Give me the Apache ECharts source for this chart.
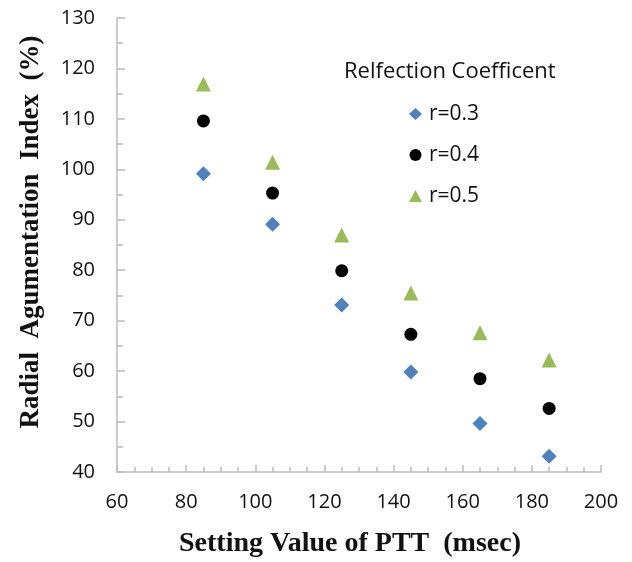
<!DOCTYPE html>
<html>
<head>
<meta charset="utf-8">
<script src="https://cdn.jsdelivr.net/npm/echarts@6/dist/echarts.min.js"></script>
<style>
  html, body { margin: 0; padding: 0; background: #fff; }
  #chart { width: 632px; height: 562px; }
</style>
</head>
<body>
<div id="chart"></div>
<script>
// PTT settings (msec) and radial augmentation index (%) per reflection coefficient
const pttSettings = [85, 105, 125, 145, 165, 185];
const aiR03 = [99.1, 89.1, 73.1, 59.8, 49.6, 43.1];
const aiR04 = [109.6, 95.3, 79.9, 67.3, 58.5, 52.6];
const aiR05 = [116.9, 101.4, 87.0, 75.5, 67.6, 62.2];
const seriesNames = ['r=0.3', 'r=0.4', 'r=0.5'];
const xTitle = 'Setting Value of PTT  (msec)';
const yTitle = 'Radial  Agumentation  Index  (%)';

const axisGray = '#bcbcbc';
const tickFont = 'Open Sans';
const titleFont = 'Liberation Serif';
const textColor = '#111111';

function pairs(xs, ys) {
  return xs.map((x, i) => [x, ys[i]]);
}

const chart = echarts.init(document.getElementById('chart'), null, { renderer: 'canvas' });

chart.setOption({
  backgroundColor: '#ffffff',
  animation: false,
  grid: { left: 117, right: 31, top: 18, bottom: 90, containLabel: false },
  title: {
    text: 'Relfection Coefficent',
    left: 344,
    top: 61,
    padding: 0,
    textStyle: { fontFamily: tickFont, fontSize: 22, fontWeight: 'normal', color: textColor }
  },
  legend: {
    data: seriesNames,
    orient: 'vertical',
    left: 409,
    top: 103,
    padding: 0,
    itemWidth: 13,
    itemHeight: 12,
    itemGap: 19,
    textStyle: { fontFamily: tickFont, fontSize: 21, color: textColor, lineHeight: 22, padding: [0, 0, 0, 2] }
  },
  // axis titles, placed as free text
  graphic: [
    {
      type: 'text',
      x: 350,
      y: 544,
      style: {
        text: xTitle,
        font: 'bold 28px "Liberation Serif"',
        fill: textColor,
        align: 'center',
        verticalAlign: 'middle'
      }
    },
    {
      type: 'text',
      x: 31,
      y: 232,
      rotation: Math.PI / 2,
      style: {
        text: yTitle,
        font: 'bold 27px "Liberation Serif"',
        fill: textColor,
        align: 'center',
        verticalAlign: 'middle'
      }
    }
  ],
  xAxis: {
    type: 'value',
    min: 60,
    max: 200,
    interval: 20,
    axisLine: { show: true, lineStyle: { color: axisGray, width: 1.5 } },
    axisTick: { show: true, inside: true, length: 7, lineStyle: { color: axisGray, width: 1.5 } },
    minorTick: { show: true, splitNumber: 4, length: 5, lineStyle: { color: axisGray, width: 1.5 } },
    splitLine: { show: false },
    axisLabel: { margin: 20, fontFamily: tickFont, fontSize: 20, color: textColor }
  },
  yAxis: {
    type: 'value',
    min: 40,
    max: 130,
    interval: 10,
    axisLine: { show: true, lineStyle: { color: axisGray, width: 1.5 } },
    axisTick: { show: true, inside: true, length: 8, lineStyle: { color: axisGray, width: 1.5 } },
    minorTick: { show: true, splitNumber: 2, length: 6, lineStyle: { color: axisGray, width: 1.5 } },
    splitLine: { show: false },
    axisLabel: { margin: 22, fontFamily: tickFont, fontSize: 20, color: textColor }
  },
  series: [
    {
      name: seriesNames[0],
      type: 'scatter',
      symbol: 'diamond',
      symbolSize: 15,
      itemStyle: { color: '#4f81bd', opacity: 1 },
      data: pairs(pttSettings, aiR03)
    },
    {
      name: seriesNames[1],
      type: 'scatter',
      symbol: 'circle',
      symbolSize: 13,
      itemStyle: { color: '#000000', opacity: 1 },
      data: pairs(pttSettings, aiR04)
    },
    {
      name: seriesNames[2],
      type: 'scatter',
      symbol: 'triangle',
      symbolSize: 15,
      itemStyle: { color: '#9bbb59', opacity: 1 },
      data: pairs(pttSettings, aiR05)
    }
  ]
});
</script>
</body>
</html>
